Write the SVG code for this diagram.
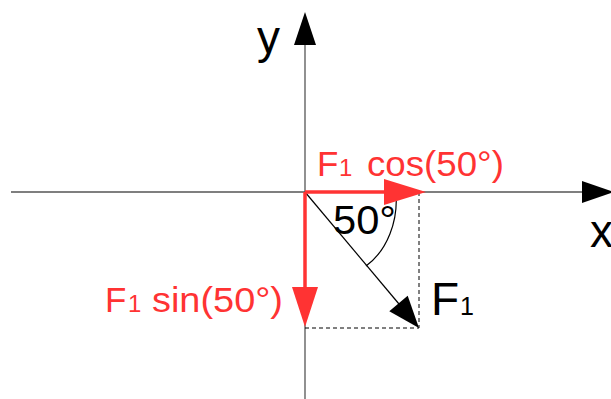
<svg xmlns="http://www.w3.org/2000/svg" width="611" height="399" viewBox="0 0 611 399">
<style>
.axis{stroke:#555;stroke-width:1.3;fill:none}
.head{fill:#000;stroke:none}
.red{stroke:#ff3333;stroke-width:3.5;fill:none}
.redhead{fill:#ff3333;stroke:none}
.dash{stroke:#000;stroke-width:1;stroke-dasharray:4,3;fill:none}
.blk{stroke:#000;stroke-width:1.2;fill:none}
.t{font-family:"Liberation Sans",Arial,sans-serif}
.tr{font-family:"Liberation Sans",Arial,sans-serif;fill:#ff3333}
</style>
<rect width="611" height="399" fill="#fff"/>
<g id="connectors">
  <g id="x-axis">
    <line class="axis" x1="11" y1="192" x2="583" y2="192"/>
    <polygon class="head" points="582,181 614,192 582,203"/>
  </g>
  <g id="y-axis">
    <line class="axis" x1="305" y1="399" x2="305" y2="44"/>
    <polygon class="head" points="294,45 305,12 316,45"/>
  </g>
  <g id="dashed">
    <line class="dash" x1="419" y1="192" x2="419" y2="328"/>
    <line class="dash" x1="305" y1="328" x2="419" y2="328"/>
  </g>
  <g id="F1-vector">
    <line class="blk" x1="305" y1="192" x2="399" y2="304"/>
    <polygon class="head" points="389.3,311.2 419,328 407.7,295.8"/>
  </g>
  <path id="angle-arc" class="blk" d="M396,194 C398,220 388,250 366,266"/>
</g>
<g id="label-50" class="t"><text x="333" y="234" font-size="40" textLength="63" lengthAdjust="spacingAndGlyphs">50°</text></g>
<g id="Fcos">
  <line class="red" x1="305" y1="192" x2="386" y2="192"/>
  <polygon class="redhead" points="384,179 426,192 384,205"/>
</g>
<g id="Fsin">
  <line class="red" x1="305" y1="192" x2="305" y2="289"/>
  <polygon class="redhead" points="292,287 318,287 305,327"/>
</g>
<g id="label-Fcos" class="tr">
  <text x="317" y="176" font-size="35">F</text>
  <text x="339" y="176" font-size="24">1</text>
  <text x="367" y="176" font-size="35" textLength="137" lengthAdjust="spacingAndGlyphs">cos(50°)</text>
</g>
<g id="label-Fsin" class="tr">
  <text x="105" y="312" font-size="35">F</text>
  <text x="128" y="312" font-size="24">1</text>
  <text x="152" y="312" font-size="35" textLength="131" lengthAdjust="spacingAndGlyphs">sin(50°)</text>
</g>
<g id="label-F1" class="t">
  <text x="431" y="315" font-size="46">F</text>
  <text x="460" y="315" font-size="25">1</text>
</g>
<g id="label-y" class="t"><text x="257" y="53" font-size="46">y</text></g>
<g id="label-x" class="t"><text x="590" y="247" font-size="46">x</text></g>
</svg>
